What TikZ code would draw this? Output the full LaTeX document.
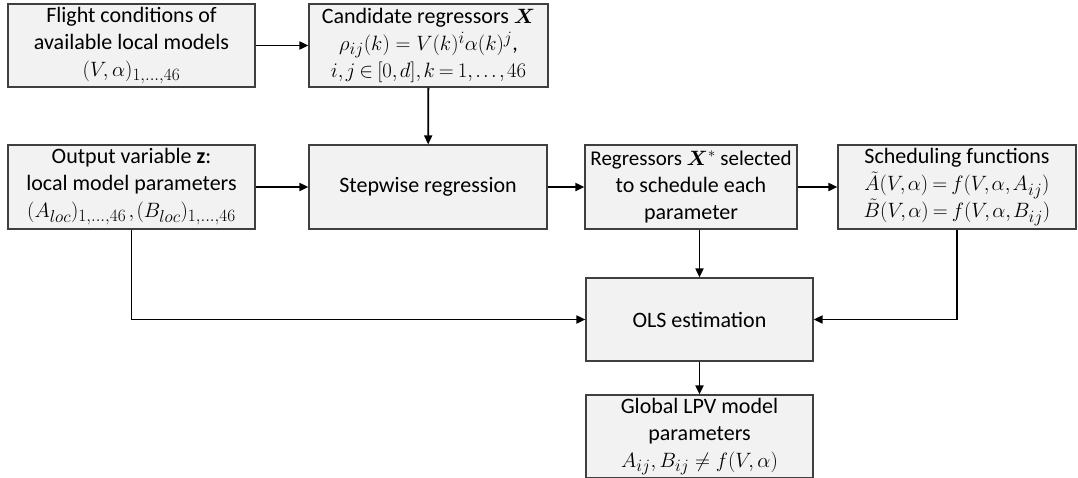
\documentclass[tikz,border=0pt]{standalone}
\usepackage{amsmath,amssymb,bm}
\usepackage{fontspec}
\setmainfont{Carlito}
\DeclareMathSizes{22}{22.5}{16}{12}
\usetikzlibrary{arrows.meta}
\definecolor{boxfill}{HTML}{F2F2F2}
\definecolor{boxline}{HTML}{3F3F3F}
\newcommand{\tightmath}{\thinmuskip=2mu\medmuskip=2.5mu\thickmuskip=3.5mu}
\begin{document}
\begin{tikzpicture}[x=1pt,y=-1pt,
  blk/.style={draw=boxline,fill=boxfill,line width=1.2pt,inner sep=0pt,
    align=center,font=\fontsize{22}{27}\selectfont,text=black},
  arr/.style={line width=1.8pt,-{Triangle[length=9pt,width=8pt]}}]
\useasboundingbox (0,0) rectangle (1078,477);
\node[blk,minimum width=247pt,minimum height=83pt] (A) at (131.5,45.5)
  {Flight conditions of\\available local models\\$(V,\alpha)_{1,\ldots,46}$};
\node[blk,minimum width=239pt,minimum height=83pt] (B) at (428.5,45.5)
  {Candidate regressors $\bm{X}$\\$\rho_{ij}(k)=V(k)^i\alpha(k)^j$,\\{\tightmath$i,j\in[0,d],k=1,\ldots,46$}};
\node[blk,minimum width=247pt,minimum height=84pt] (C) at (131.5,187)
  {Output variable \textbf{z}:\\local model parameters\\{\tightmath$(A_{loc})_{1,\ldots,46}\,,(B_{loc})_{1,\ldots,46}$}};
\node[blk,minimum width=238pt,minimum height=84pt] (D) at (428,187)
  {Stepwise regression};
\node[blk,minimum width=212pt,minimum height=84pt] (E) at (691,187)
  {{\fontsize{21}{27}\selectfont Regressors $\bm{X}^{*}$ selected}\\to schedule each\\parameter};
\node[blk,minimum width=238pt,minimum height=84pt] (F) at (957,187)
  {Scheduling functions\\{\tightmath$\tilde{A}(V,\alpha)=f(V,\alpha,A_{ij})$}\\{\tightmath$\tilde{B}(V,\alpha)=f(V,\alpha,B_{ij})$}};
\node[blk,minimum width=227pt,minimum height=83pt] (G) at (699.5,319.5)
  {OLS estimation};
\node[blk,minimum width=227pt,minimum height=83pt] (H) at (699.5,436.5)
  {Global LPV model\\parameters\\$A_{ij},B_{ij}\neq f(V,\alpha)$};
\draw[arr] (A) -- (B);
\draw[arr] (B) -- (D);
\draw[arr] (C) -- (D);
\draw[arr] (D) -- (E);
\draw[arr] (E) -- (F);
\draw[arr] (G.north |- E.south) -- (G.north);
\draw[arr] (G) -- (H);
\draw[arr] (C.south) |- (G.west);
\draw[arr] (F.south) |- (G.east);
\end{tikzpicture}
\end{document}
